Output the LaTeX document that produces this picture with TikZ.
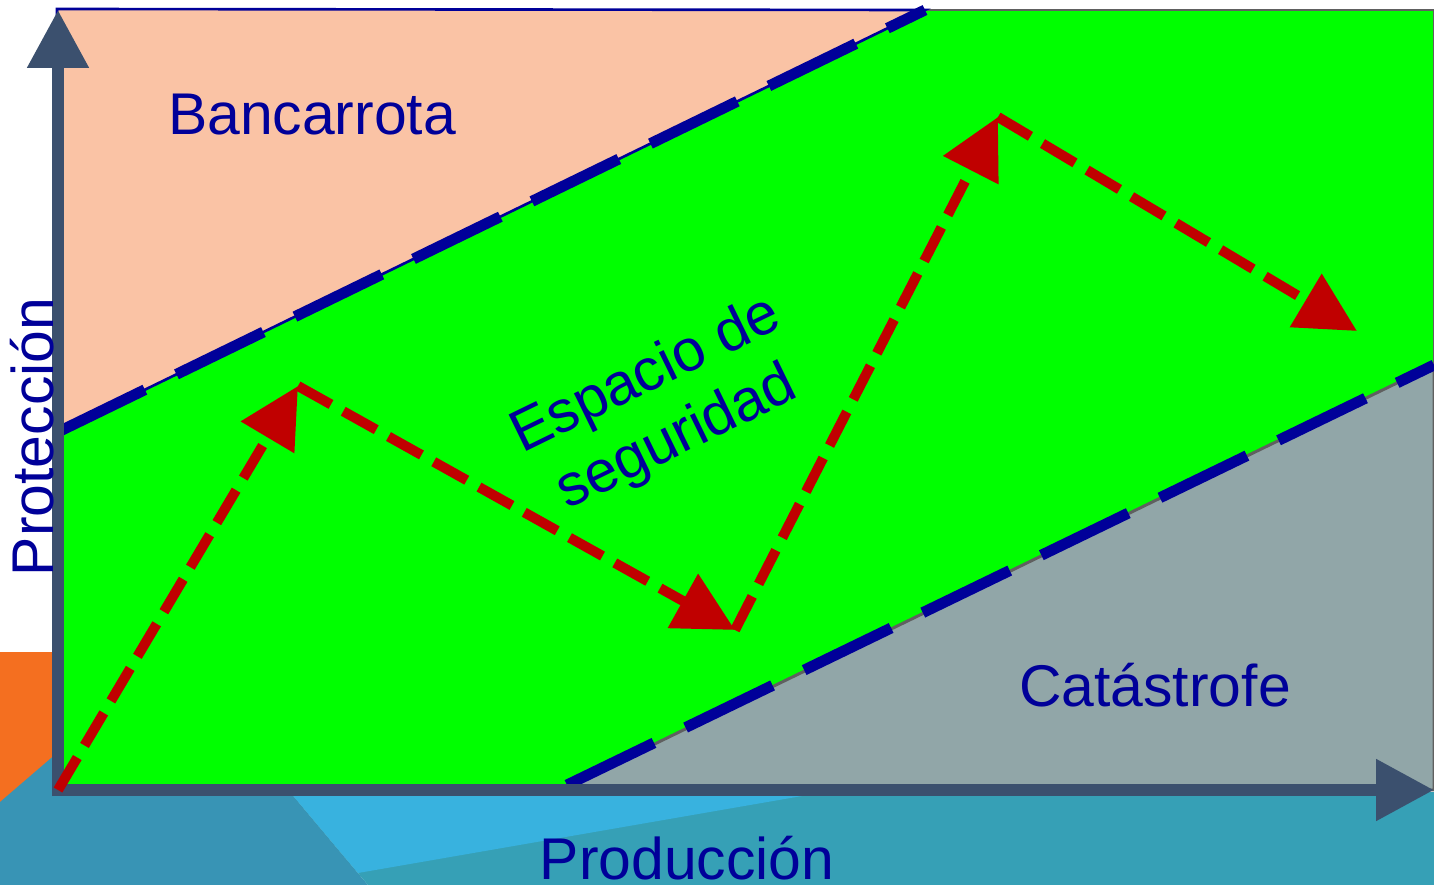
\documentclass[tikz,border=0pt]{standalone}
\usepackage{fontspec}
\setmainfont{Liberation Sans}
\usetikzlibrary{arrows.meta}
\usetikzlibrary{calc}

\definecolor{zoneNavy}{HTML}{000099}
\definecolor{zonePeach}{HTML}{FAC3A5}
\definecolor{zoneGreen}{HTML}{00FF00}
\definecolor{zoneGray}{HTML}{91A6A8}
\definecolor{edgeGray}{HTML}{606060}
\definecolor{axisBlue}{HTML}{3B506E}
\definecolor{arrowRed}{HTML}{C00000}
\definecolor{bgOrange}{HTML}{F46F20}
\definecolor{bgTealL}{HTML}{3894B5}
\definecolor{bgTealR}{HTML}{36A0B6}
\definecolor{bgSky}{HTML}{38B2DF}

\tikzset{
	axisLine/.style={draw=axisBlue, line width=6.8pt, -{Triangle[length=33pt,width=33.5pt]}},
	redArrow/.style={draw=arrowRed, line width=5.7pt, dash pattern=on 21.5pt off 8pt, -{Triangle[length=34pt,width=34pt]}},
	borderDash/.style={draw=zoneNavy, line width=6.2pt, dash pattern=on 55pt off 20pt},
	zoneLabel/.style={text=zoneNavy, font=\fontsize{33.5}{40}\selectfont, inner sep=0pt}
}

\newcommand{\drawRedArrow}[2]{
	\draw[redArrow] (#1) -- (#2);
}
\newcommand{\drawBorder}[2]{
	\draw[borderDash] (#1) -- (#2);
}

\begin{document}
\begin{tikzpicture}[x=0.02cm, y=-0.02cm]
		\useasboundingbox (0,0) rectangle (1434,885);
		\fill[white] (0,0) rectangle (1434,885);

		% background pieces
		\fill[bgOrange] (0,652) rectangle (57,810);
		\fill[bgTealL] (0,802) -- (57,753) -- (120,700) -- (290,792) -- (368,885) -- (0,885) -- cycle;
		\fill[bgTealR] (290,792) -- (1434,792) -- (1434,885) -- (368,885) -- cycle;
		\fill[bgSky] (290,792) -- (825,792) -- (358,873) -- cycle;

		\coordinate (O) at (58,790);
		\coordinate (Y_T) at (58,10);
		\coordinate (X_R) at (1434,790);
		\coordinate (T_L) at (58,432);
		\coordinate (T_R) at (925,10);
		\coordinate (C_L) at (567,785);
		\coordinate (C_R) at (1434,365);

		% zones
		\filldraw[fill=zoneGreen, draw=edgeGray, line width=1.7pt] (57,10) rectangle (1434,790);
		\filldraw[fill=zonePeach, draw=zoneNavy, line width=1.5pt] (57,9) -- (T_R) -- (T_L) -- cycle;
		\filldraw[fill=zoneGray, draw=edgeGray, line width=1.7pt] (560,790) -- (C_R) -- (1434,790) -- cycle;
		\drawBorder{T_L}{T_R}
		\drawBorder{C_L}{C_R}

		% axes
		\draw[axisLine] (58,796) -- (Y_T);
		\draw[axisLine] (52,790) -- (X_R);

		% path
		\coordinate (P1) at (298,386);
		\coordinate (P2) at (735,630);
		\coordinate (P3) at (998,117);
		\coordinate (P4) at (1357,331);
		\drawRedArrow{O}{P1}
		\drawRedArrow{P1}{P2}
		\drawRedArrow{P2}{P3}
		\drawRedArrow{P3}{P4}

		\node[zoneLabel, anchor=base] (bancarrota) at (312,135) {Bancarrota};
		\node[zoneLabel, anchor=base] (catastrofe) at (1155,706) {Catástrofe};
		\node[zoneLabel, anchor=base] (produccion) at (687,879) {Producción};
		\node[zoneLabel, anchor=base, rotate=90] (proteccion) at (53,437) {Protección};
		\node[zoneLabel, align=center, rotate=26] (espacio) at (662,408) {Espacio de\\seguridad};
	\end{tikzpicture}
\end{document}
